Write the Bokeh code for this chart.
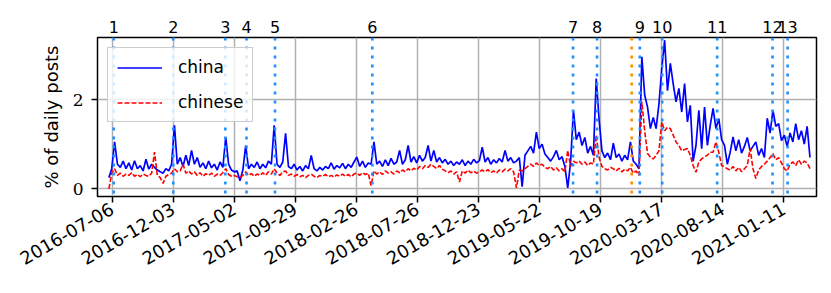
import math
import pandas as pd
from bokeh.plotting import figure
from bokeh.models import (Span, Legend, LegendItem, FixedTicker, LinearAxis,
                          DatetimeTickFormatter, Range1d)
from bokeh.embed import file_html
from bokeh.resources import INLINE

# ---------------- data (weekly samples) ----------------
series_start = "2016-06-28"

china = [
    0.25, 0.45, 1.05, 0.55, 0.48, 0.62, 0.45, 0.58, 0.42, 0.63,
    0.45, 0.52, 0.40, 0.66, 0.44, 0.55, 0.48, 0.42, 0.38, 0.35,
    0.45, 0.40, 0.55, 1.42, 0.55, 0.70, 0.50, 0.75, 0.52, 0.86,
    0.55, 0.70, 0.48, 0.58, 0.45, 0.62, 0.47, 0.55, 0.42, 0.60,
    0.48, 1.16, 0.55, 0.42, 0.38, 0.40, 0.18, 0.42, 0.97, 0.45,
    0.55, 0.48, 0.60, 0.45, 0.55, 0.47, 0.62, 0.55, 1.42, 0.55,
    0.48, 0.60, 1.24, 0.50, 0.45, 0.55, 0.42, 0.50, 0.40, 0.52,
    0.45, 0.75, 0.45, 0.40, 0.48, 0.42, 0.50, 0.45, 0.58, 0.44,
    0.52, 0.47, 0.57, 0.45, 0.55, 0.48, 0.60, 0.71, 0.50, 0.62,
    0.48, 0.58, 0.55, 1.05, 0.55, 0.62, 0.50, 0.65, 0.52, 0.68,
    0.55, 0.60, 0.86, 0.55, 0.65, 0.97, 0.60, 0.72, 0.58, 0.75,
    0.62, 0.70, 0.97, 0.62, 0.86, 0.60, 0.70, 0.58, 0.66, 0.55,
    0.62, 0.52, 0.60, 0.55, 0.65, 0.52, 0.62, 0.55, 0.66, 0.58,
    0.63, 0.93, 0.60, 0.70, 0.55, 0.65, 0.58, 0.68, 0.60, 0.86,
    0.62, 0.70, 0.58, 0.62, 0.70, 0.05, 0.75, 0.85, 0.95, 0.80,
    1.27, 0.90, 1.00, 0.78, 0.70, 0.62, 0.72, 0.86, 0.65, 0.72,
    0.50, 0.02, 0.60, 1.76, 1.10, 1.27, 0.97, 1.15, 0.80, 0.95,
    0.75, 2.47, 1.55, 0.85, 0.70, 0.80, 0.65, 1.02, 0.70, 0.78,
    0.62, 0.75, 0.65, 1.05, 0.62, 0.55, 0.45, 2.96, 2.10, 1.83,
    1.35, 1.60, 1.35, 1.90, 2.70, 3.33, 2.20, 2.81, 2.35, 1.95,
    2.25, 1.72, 2.36, 1.50, 1.87, 0.62, 0.97, 1.76, 0.90, 1.83,
    0.97, 1.42, 1.80, 1.35, 1.57, 1.10, 0.97, 0.55, 0.82, 1.16,
    0.85, 1.10, 0.80, 0.95, 1.15, 0.85, 0.95, 1.05, 0.75, 0.90,
    0.70, 1.58, 1.25, 1.76, 1.40, 1.46, 1.08, 1.20, 0.95, 1.25,
    1.05, 1.46, 1.10, 1.30, 1.00, 1.40, 0.70,
]

chinese = [
    0.00, 0.35, 0.45, 0.30, 0.35, 0.28, 0.33, 0.30, 0.36, 0.28,
    0.32, 0.27, 0.33, 0.30, 0.28, 0.35, 0.82, 0.30, 0.25, 0.12,
    0.28, 0.32, 0.35, 0.45, 0.38, 0.40, 0.55, 0.35, 0.40, 0.33,
    0.38, 0.30, 0.36, 0.28, 0.34, 0.30, 0.35, 0.28, 0.33, 0.30,
    0.36, 0.45, 0.32, 0.28, 0.30, 0.27, 0.25, 0.30, 0.38, 0.30,
    0.34, 0.28, 0.33, 0.30, 0.36, 0.30, 0.38, 0.33, 0.45, 0.35,
    0.30, 0.38, 0.40, 0.30, 0.33, 0.28, 0.32, 0.27, 0.30, 0.25,
    0.30, 0.33, 0.28, 0.25, 0.30, 0.28, 0.32, 0.27, 0.30, 0.26,
    0.31, 0.28, 0.33, 0.28, 0.32, 0.27, 0.33, 0.35, 0.30, 0.36,
    0.32, 0.35, 0.07, 0.40, 0.33, 0.38, 0.32, 0.40, 0.35, 0.38,
    0.33, 0.40, 0.36, 0.42, 0.38, 0.45, 0.40, 0.46, 0.42, 0.50,
    0.45, 0.52, 0.48, 0.55, 0.50, 0.45, 0.52, 0.44, 0.40, 0.36,
    0.40, 0.33, 0.38, 0.15, 0.40, 0.35, 0.42, 0.36, 0.40, 0.35,
    0.38, 0.42, 0.38, 0.43, 0.36, 0.40, 0.35, 0.42, 0.38, 0.44,
    0.40, 0.45, 0.38, 0.02, 0.42, 0.40, 0.45, 0.50, 0.55, 0.50,
    0.58, 0.52, 0.55, 0.48, 0.45, 0.50, 0.42, 0.47, 0.40, 0.45,
    0.38, 0.86, 0.50, 0.62, 0.58, 0.62, 0.55, 0.60, 0.52, 0.58,
    0.55, 1.20, 0.70, 0.50, 0.45, 0.42, 0.48, 0.45, 0.40, 0.46,
    0.38, 0.44, 0.40, 0.48, 0.35, 0.40, 0.30, 1.95, 1.30, 0.79,
    0.71, 0.67, 0.75, 0.85, 1.50, 1.30, 1.38, 1.35, 1.20, 1.05,
    0.97, 0.85, 0.88, 0.90, 0.75, 0.52, 0.37, 0.60, 0.67, 0.72,
    0.75, 0.82, 0.82, 1.05, 0.82, 0.52, 0.49, 0.45, 0.42, 0.50,
    0.40, 0.48, 0.38, 0.45, 0.52, 0.90, 0.45, 0.23, 0.42, 0.50,
    0.55, 0.62, 0.70, 0.79, 0.65, 0.70, 0.58, 0.45, 0.40, 0.55,
    0.60, 0.52, 0.65, 0.55, 0.62, 0.58, 0.45,
]

tick_labels = ["2016-07-06", "2016-12-03", "2017-05-02", "2017-09-29",
               "2018-02-26", "2018-07-26", "2018-12-23", "2019-05-22",
               "2019-10-19", "2020-03-17", "2020-08-14", "2021-01-11"]
y_ticks = [0, 2]

event_dates = ["2016-07-10", "2016-12-03", "2017-04-10", "2017-06-01",
               "2017-08-10", "2018-04-06", "2019-08-12", "2019-10-10",
               "2020-01-23", "2020-03-18", "2020-07-31", "2020-12-14",
               "2021-01-20"]
event_labels = ["1", "2", "3", "4", "5", "6", "7", "8", "9", "10",
                "11", "12", "13"]
orange_dates = ["2020-01-03"]

x_limits = ["2016-05-31", "2021-04-01"]
y_limits = [-0.173, 3.39]


def ms(d):
    return int(pd.Timestamp(d).value // 1_000_000)


dates = pd.date_range(series_start, periods=len(china), freq="7D")

FONT = "DejaVu Sans"

p = figure(width=831, height=293, x_axis_type="datetime",
           output_backend="svg", toolbar_location=None,
           x_range=Range1d(ms(x_limits[0]), ms(x_limits[1])),
           y_range=Range1d(y_limits[0], y_limits[1]),
           min_border_left=97, min_border_right=15,
           min_border_top=37, min_border_bottom=97)

p.background_fill_color = "white"
p.border_fill_color = "white"
p.outline_line_color = "black"
p.outline_line_width = 1.5

p.xaxis.ticker = FixedTicker(ticks=[ms(t) for t in tick_labels])
fmt = "%Y-%m-%d"
p.xaxis.formatter = DatetimeTickFormatter(
    microseconds=fmt, milliseconds=fmt, seconds=fmt, minsec=fmt,
    minutes=fmt, hourmin=fmt, hours=fmt, days=fmt, months=fmt, years=fmt)
p.yaxis.ticker = FixedTicker(ticks=y_ticks)

p.xaxis.major_label_orientation = math.pi / 6
for ax in (p.xaxis, p.yaxis):
    ax.axis_line_color = None
    ax.major_tick_out = 6
    ax.major_tick_in = 0
    ax.minor_tick_out = 0
    ax.minor_tick_in = 0
    ax.major_tick_line_width = 1.5
    ax.major_tick_line_color = "black"
    ax.major_label_text_font_size = "17px"
    ax.major_label_text_color = "black"

p.xaxis.major_label_text_font = FONT
p.xaxis.major_label_text_font_size = "18px"
p.xaxis.major_label_standoff = 5
p.yaxis.major_label_text_font = "DejaVu Serif"
p.yaxis.major_label_standoff = 8
p.yaxis.axis_label = "% of daily posts"
p.yaxis.axis_label_text_font = FONT
p.yaxis.axis_label_text_font_size = "18px"
p.yaxis.axis_label_text_font_style = "normal"
p.yaxis.axis_label_text_color = "black"
p.yaxis.axis_label_standoff = 8

p.grid.grid_line_color = "#b0b0b0"
p.grid.grid_line_width = 1.5

# event numbers on a top axis
event_ms = [ms(d) for d in event_dates]
top_axis = LinearAxis(ticker=FixedTicker(ticks=event_ms),
                      major_label_overrides={t: lab for t, lab in zip(event_ms, event_labels)})
top_axis.axis_line_color = None
top_axis.major_tick_line_color = None
top_axis.minor_tick_line_color = None
top_axis.major_tick_out = 0
top_axis.major_tick_in = 0
top_axis.major_label_standoff = 5
top_axis.major_label_text_font = FONT
top_axis.major_label_text_font_size = "16px"
top_axis.major_label_text_color = "black"
p.add_layout(top_axis, "above")

r_china = p.line(dates, china, line_color="blue", line_width=1.7)
r_chinese = p.line(dates, chinese, line_color="red", line_width=1.6,
                   line_dash="5 2")

for d in event_dates:
    p.add_layout(Span(location=ms(d), dimension="height",
                      line_color="#1e90ff", line_width=2.6,
                      line_dash="3 6"))
for d in orange_dates:
    p.add_layout(Span(location=ms(d), dimension="height",
                      line_color="#ff8c00", line_width=2.6,
                      line_dash="3 6"))

legend = Legend(items=[LegendItem(label="china", renderers=[r_china]),
                       LegendItem(label="chinese", renderers=[r_chinese])],
                location="top_left")
legend.margin = 10
legend.padding = 9
legend.spacing = 15
legend.glyph_width = 45
legend.glyph_height = 17
legend.label_height = 17
legend.label_standoff = 16
legend.label_text_font = FONT
legend.label_text_font_size = "17px"
legend.label_text_color = "black"
legend.background_fill_alpha = 0.8
legend.border_line_color = "#cccccc"
legend.border_line_width = 1.2
legend.border_line_alpha = 1.0
p.add_layout(legend)

open("out.html", "w").write(file_html(p, INLINE))
